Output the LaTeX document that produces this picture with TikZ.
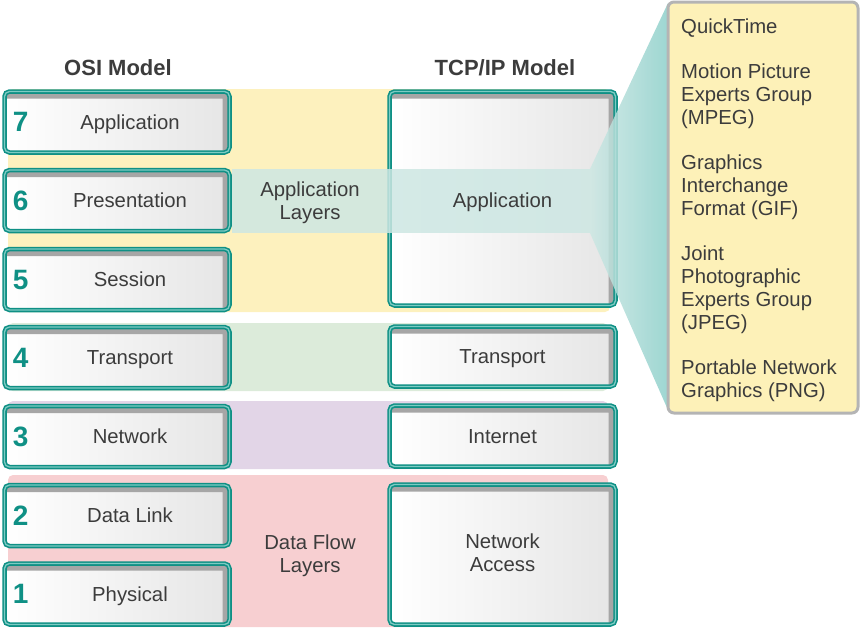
\documentclass[tikz,border=0pt]{standalone}
\usepackage{fontspec}
\setmainfont{Liberation Sans}
\usepackage{xcolor}
\usepackage{tikz}
\usetikzlibrary{positioning,shadings}
\definecolor{tealbd}{HTML}{0F9085}
\definecolor{teallt}{HTML}{7ECBC3}
\definecolor{txtgray}{HTML}{3C3C3C}
\definecolor{bandyellow}{HTML}{FDF1BE}
\definecolor{bandgreen}{HTML}{DCEBDA}
\definecolor{bandpurple}{HTML}{E2D5E7}
\definecolor{bandpink}{HTML}{F7CFD1}
\definecolor{calloutfill}{HTML}{FDF1B8}
\definecolor{calloutbd}{HTML}{B4B4B4}
\definecolor{funnellt}{HTML}{CDE7E3}
\definecolor{funneldk}{HTML}{8DCFCA}

\begin{document}
\begin{tikzpicture}[x=1pt,y=-1pt,
	layerbox/.style={draw=tealbd,double=teallt,double distance=1.3pt,line width=1.6pt,
		rounded corners=5pt,left color=white,right color=gray!20,inner sep=0pt,
		text=txtgray,font=\fontsize{20.3}{23}\selectfont,align=center,
		path picture={\draw[gray!70,line width=14pt] (path picture bounding box.north west)
			-- (path picture bounding box.north east) -- (path picture bounding box.south east);}},
	onerow/.style={text height=14.5pt,text depth=0pt},
	osibox/.style={layerbox,onerow,minimum width=225pt,minimum height=61pt},
	tcpbox/.style={layerbox,minimum width=226pt},
	numstyle/.style={anchor=west,inner sep=9pt,text=tealbd,font=\fontsize{28}{30}\selectfont\bfseries},
	midtext/.style={text=txtgray,font=\fontsize{20.3}{23}\selectfont,align=center,inner sep=0pt},
	headtext/.style={text=txtgray,font=\fontsize{22}{24}\selectfont\bfseries,inner sep=0pt}]
	\useasboundingbox (0,0) rectangle (861,630);
	% colour bands behind the layers
	\fill[bandyellow,rounded corners=5pt] (8,89) rectangle (610,312);
	\fill[bandgreen,rounded corners=5pt] (8,323) rectangle (608,391);
	\fill[bandpurple,rounded corners=5pt] (8,401) rectangle (608,469);
	\fill[bandpink,rounded corners=5pt] (8,475) rectangle (608,627);
	
	\node[headtext] (osititle) at (118,67.5) {OSI Model};
	\node[headtext] (tcptitle) at (505,67.5) {TCP/IP Model};
	
	\node[osibox,label={[numstyle]west:7}] (osi7) at (117,122) {\hspace*{26pt}Application};
	\node[osibox,label={[numstyle]west:6}] (osi6) at (117,200.5) {\hspace*{26pt}Presentation};
	\node[osibox,label={[numstyle]west:5}] (osi5) at (117,279.5) {\hspace*{26pt}Session};
	\node[osibox,label={[numstyle]west:4}] (osi4) at (117,357.5) {\hspace*{26pt}Transport};
	\node[osibox,label={[numstyle]west:3}] (osi3) at (117,436.5) {\hspace*{26pt}Network};
	\node[osibox,label={[numstyle]west:2}] (osi2) at (117,515.5) {\hspace*{26pt}Data Link};
	\node[osibox,label={[numstyle]west:1}] (osi1) at (117,594) {\hspace*{26pt}Physical};
	
	\node[tcpbox,minimum height=214pt] (tcpapp) at (502.5,198.5) {};
	\node[tcpbox,onerow,minimum height=60pt] (tcptrans) at (502.5,356.5) {Transport};
	\node[tcpbox,onerow,minimum height=61pt] (tcpinet) at (502.5,436) {Internet};
	\node[tcpbox,minimum height=140pt] (tcpnet) at (502.5,554.5) {};
	\node[midtext] (tcpnettext) at (502.5,552.5) {Network\\Access};
	
	% teal band and funnel out to the callout
	\fill[funnellt,opacity=0.85] (232,169) rectangle (590,233);
	\shade[left color=funnellt,right color=funneldk,opacity=0.85] (590,169) -- (668,3) -- (668,410) -- (590,233) -- cycle;
	\node[midtext,onerow] (tcpapptext) at (502.5,200) {Application};
	\node[midtext] (applayers) at (310,202.5) {Application\\Layers};
	\node[midtext] (flowlayers) at (310,555.5) {Data Flow\\Layers};
	
	\draw[calloutbd,fill=calloutfill,line width=3pt,rounded corners=6pt] (668,2) rectangle (858,413);
	\node[midtext,anchor=north west,align=left,font=\fontsize{20.3}{22.75}\selectfont] (formats) at (681,18.5)
		{QuickTime\\[22.75pt]Motion Picture\\Experts Group\\(MPEG)\\[22.75pt]Graphics\\Interchange\\Format (GIF)\\[22.75pt]Joint\\Photographic\\Experts Group\\(JPEG)\\[22.75pt]Portable Network\\Graphics (PNG)};
\end{tikzpicture}
\end{document}
